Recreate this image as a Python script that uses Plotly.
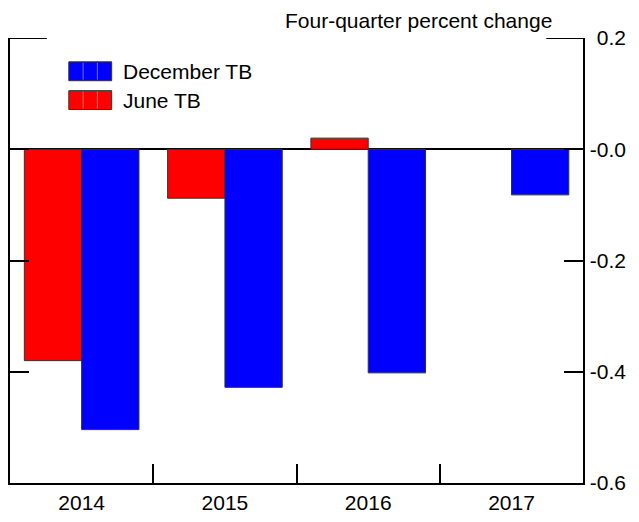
import plotly.graph_objects as go

# Forecast revisions by year, four-quarter percent change
years = ["2014", "2015", "2016", "2017"]
series_names = ["June TB", "December TB"]
june_tb = [-0.38, -0.088, 0.02, None]
december_tb = [-0.504, -0.428, -0.402, -0.082]
series_colors = ["#ff0000", "#0000ff"]

y_tick_vals = [0.2, 0.0, -0.2, -0.4, -0.6]
y_tick_text = ["0.2", "-0.0", "-0.2", "-0.4", "-0.6"]
unit_label = "Four-quarter percent change"

FONT = "Liberation Sans, Arial, Helvetica, sans-serif"
W, H = 639, 522
ML, MR, MT, MB = 8, 13, 38, 36
PLOT_RIGHT = 583  # right edge of the bar area in pixels
x_dom_end = (PLOT_RIGHT - ML) / (W - ML - MR)

fig = go.Figure()
for name, vals, col in zip(series_names, [june_tb, december_tb], series_colors):
    fig.add_trace(go.Bar(
        x=years, y=vals, name=name,
        marker=dict(color=col, line=dict(color="#333333", width=1)),
        showlegend=False,
    ))

# empty trace that carries the right-aligned value labels (yaxis2)
fig.add_trace(go.Scatter(x=years, y=[None] * len(years), yaxis="y2",
                         mode="markers", showlegend=False, hoverinfo="skip"))

# long ticks at the top of the frame
top_tick = 37 / (PLOT_RIGHT - ML)
for x0, x1 in [(0, top_tick), (1 - top_tick, 1)]:
    fig.add_shape(type="line", xref="x domain", yref="y", x0=x0, x1=x1,
                  y0=y_tick_vals[0], y1=y_tick_vals[0],
                  line=dict(color="black", width=2))


def px_x(px):
    return (px - ML) / (W - ML - MR)


def px_y(py):
    return 1 - (py - MT) / (H - MT - MB)


# legend: wide striped swatches with labels
legend_rows = [(series_names[1], series_colors[1], 62, 81),
               (series_names[0], series_colors[0], 91, 110)]
sx0, sx1 = 67, 110
for label, col, top, bot in legend_rows:
    fig.add_shape(type="rect", xref="paper", yref="paper",
                  x0=px_x(sx0), x1=px_x(sx1), y0=px_y(bot), y1=px_y(top),
                  fillcolor=col, line=dict(color="#333333", width=1))
    for k in (1, 2):
        xs = sx0 + (sx1 - sx0) * k / 3
        fig.add_shape(type="line", xref="paper", yref="paper",
                      x0=px_x(xs), x1=px_x(xs), y0=px_y(bot - 1), y1=px_y(top + 1),
                      line=dict(color="rgba(255,255,255,0.45)", width=1))
    fig.add_annotation(xref="paper", yref="paper", x=px_x(119), y=px_y((top + bot) / 2),
                       text=label, showarrow=False, xanchor="left", yanchor="middle",
                       font=dict(family=FONT, size=21, color="black"))

fig.add_annotation(xref="paper", yref="paper", x=px_x(554), y=px_y(20),
                   text=unit_label, showarrow=False, xanchor="right", yanchor="middle",
                   font=dict(family=FONT, size=21, color="black"))

fig.update_layout(
    width=W, height=H,
    margin=dict(l=ML, r=MR, t=MT, b=MB, pad=0),
    paper_bgcolor="white", plot_bgcolor="white",
    barmode="group", bargap=0.2, bargroupgap=0,
    font=dict(family=FONT, size=21, color="black"),
    xaxis=dict(
        domain=[0, x_dom_end], type="category", categoryorder="array",
        categoryarray=years, tickson="boundaries", ticks="inside", ticklen=19,
        tickwidth=2, tickcolor="black", showline=True, linewidth=2, linecolor="black",
        showgrid=False, zeroline=False, tickfont=dict(size=21),
    ),
    yaxis=dict(
        side="right", anchor="x", range=[-0.6, 0.2], tickvals=y_tick_vals,
        ticks="inside", ticklen=19, tickwidth=2, tickcolor="black",
        showline=True, linewidth=2, linecolor="black", mirror="ticks",
        showticklabels=False, showgrid=False,
        zeroline=True, zerolinecolor="black", zerolinewidth=2,
    ),
    yaxis2=dict(
        overlaying="y", side="left", anchor="free", position=1,
        range=[-0.6, 0.2], tickvals=y_tick_vals, ticktext=y_tick_text,
        ticks="", showline=False, showgrid=False, zeroline=False,
        tickfont=dict(size=21),
    ),
)

fig.write_html("out.html")
